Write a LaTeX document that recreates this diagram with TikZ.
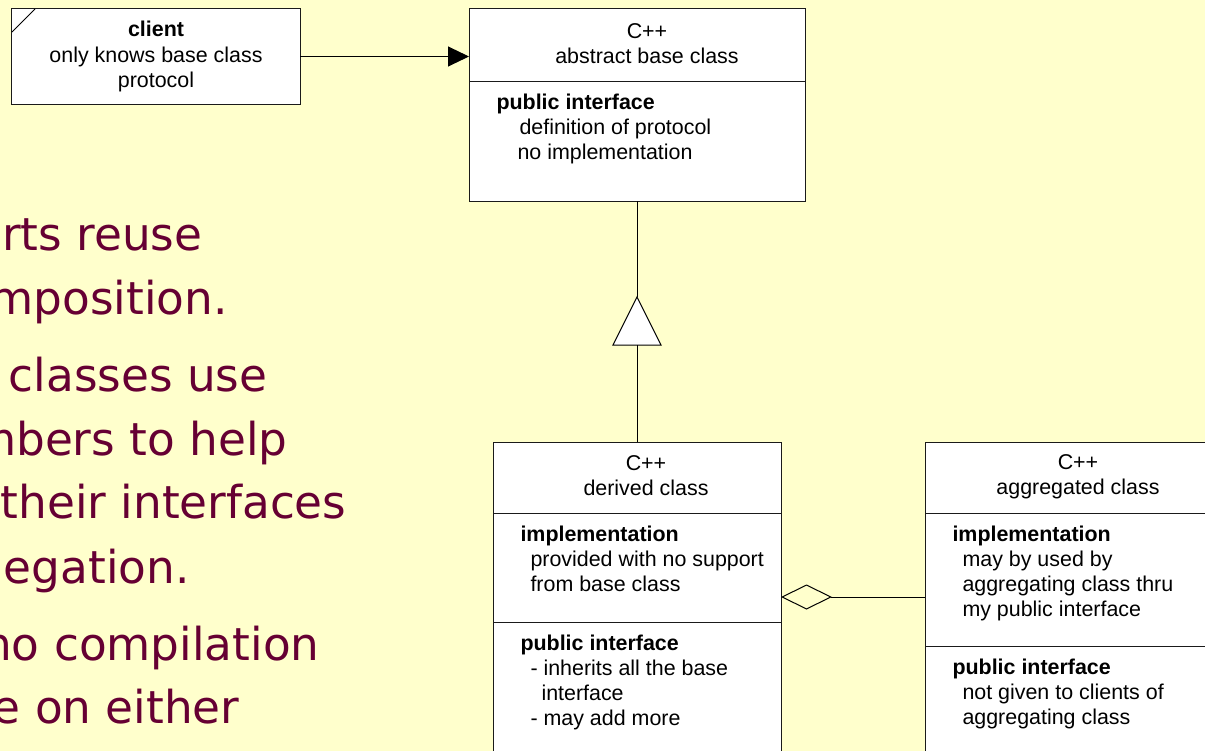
\documentclass[tikz,border=0pt]{standalone}
\usepackage{fontspec}
\setmainfont{Liberation Sans}
\newfontfamily\slidefont{DejaVu Sans}
\usetikzlibrary{positioning,arrows.meta}
\definecolor{slidebg}{HTML}{FFFFCC}
\definecolor{slidetext}{HTML}{660033}
\definecolor{boxline}{HTML}{1A1A1A}
\begin{document}
\begin{tikzpicture}[x=1bp, y=-1bp, line width=1bp,
                    comp/.style = {shape = rectangle,
                                   draw = boxline,
                                   fill = white,
                                   inner sep = 0pt,
                                   outer sep = 0pt,
                                   minimum width = 288bp},
                    htext/.style = {align = center,
                                    inner sep = 0pt,
                                    font = \fontsize{21.5}{25.2}\selectfont},
                    ctext/.style = {align = left,
                                    anchor = north west,
                                    inner sep = 0pt,
                                    font = \fontsize{21.5}{25.2}\selectfont},
                    slideline/.style = {anchor = base east,
                                        inner sep = 0pt,
                                        text = slidetext,
                                        font = \slidefont\fontsize{45.5}{55}\selectfont}]
		\useasboundingbox (0,0) rectangle (1205,751);
		\clip (0,0) rectangle (1205,751);
		\fill[slidebg] (0,0) rectangle (1205,751);
		% slide text, cut at the left edge
		\node[slideline] (s1) at (203,250) {rts reuse};
		\node[slideline] (s2) at (228,314) {mposition.};
		\node[slideline] (s3) at (268,391) {classes use};
		\node[slideline] (s4) at (288,455) {mbers to help};
		\node[slideline] (s5) at (347,518) {their interfaces};
		\node[slideline] (s6) at (190,583) {egation.};
		\node[slideline] (s7) at (320,660) {no compilation};
		\node[slideline] (s8) at (240,723) {e on either};
		% client
		\node[comp, minimum height = 95bp, align = center,
		      font = \fontsize{21.5}{25.2}\selectfont] (client) at (156,56.5)
		     {\textbf{client}\\only knows base class\\protocol};
		\draw ([yshift=-23bp]client.north west) -- ([xshift=23bp]client.north west);
		% abstract base class
		\node[comp, minimum width = 336bp, minimum height = 72bp] (basehead) at (637,45) {};
		\node[comp, minimum width = 336bp, minimum height = 120bp, below = 0pt of basehead] (basebody) {};
		\node[htext] (basetitle) at ([xshift=10bp,yshift=1bp]basehead.center) {C++\\abstract base class};
		\node[ctext] (basepub) at ([xshift=27bp,yshift=-12bp]basebody.north west)
		     {\textbf{public interface}\\\hspace*{23bp}definition of protocol\\\hspace*{21bp}no implementation};
		% derived class
		\node[comp, minimum height = 71bp] (derivedhead) at (637,477.5) {};
		\node[comp, minimum height = 109bp, below = 0pt of derivedhead] (derivedimpl) {};
		\node[comp, minimum height = 150bp, below = 0pt of derivedimpl] (derivedpub) {};
		\node[htext] (derivedtitle) at ([xshift=9bp,yshift=2bp]derivedhead.center) {C++\\derived class};
		\node[ctext] (derivedimpltext) at ([xshift=27bp,yshift=-12.5bp]derivedimpl.north west)
		     {\textbf{implementation}\\\hspace*{10bp}provided with no support\\\hspace*{10bp}from base class};
		\node[ctext] (derivedpubtext) at ([xshift=27bp,yshift=-12.5bp]derivedpub.north west)
		     {\textbf{public interface}\\\hspace*{10bp}- inherits all the base\\\hspace*{21bp}interface\\\hspace*{10bp}- may add more};
		% aggregated class
		\node[comp, minimum height = 71bp] (agghead) at (1069,477.5) {};
		\node[comp, minimum height = 133bp, below = 0pt of agghead] (aggimpl) {};
		\node[comp, minimum height = 150bp, below = 0pt of aggimpl] (aggpub) {};
		\node[htext] (aggtitle) at ([xshift=9bp,yshift=1bp]agghead.center) {C++\\aggregated class};
		\node[ctext] (aggimpltext) at ([xshift=27bp,yshift=-12.5bp]aggimpl.north west)
		     {\textbf{implementation}\\\hspace*{10bp}may by used by\\\hspace*{10bp}aggregating class thru\\\hspace*{10bp}my public interface};
		\node[ctext] (aggpubtext) at ([xshift=27bp,yshift=-12.5bp]aggpub.north west)
		     {\textbf{public interface}\\\hspace*{10bp}not given to clients of\\\hspace*{10bp}aggregating class};
		% connectors
		\draw[-{Triangle[length=21bp,width=20bp]}] (client.east) -- (client.east -| basehead.west);
		\coordinate (gentip) at ([yshift=-96bp]basebody.south);
		\coordinate (genbase) at ([yshift=-48bp]gentip);
		\draw (basebody.south) -- (gentip);
		\draw[fill=white] (gentip) -- ++(-24,48) -- ++(48,0) -- cycle;
		\draw (genbase) -- (derivedhead.north);
		\coordinate (aggy) at (0,597);
		\draw[{Diamond[open,length=51bp,width=25bp]}-] (derivedimpl.east |- aggy) -- (aggimpl.west |- aggy);
	\end{tikzpicture}
\end{document}
